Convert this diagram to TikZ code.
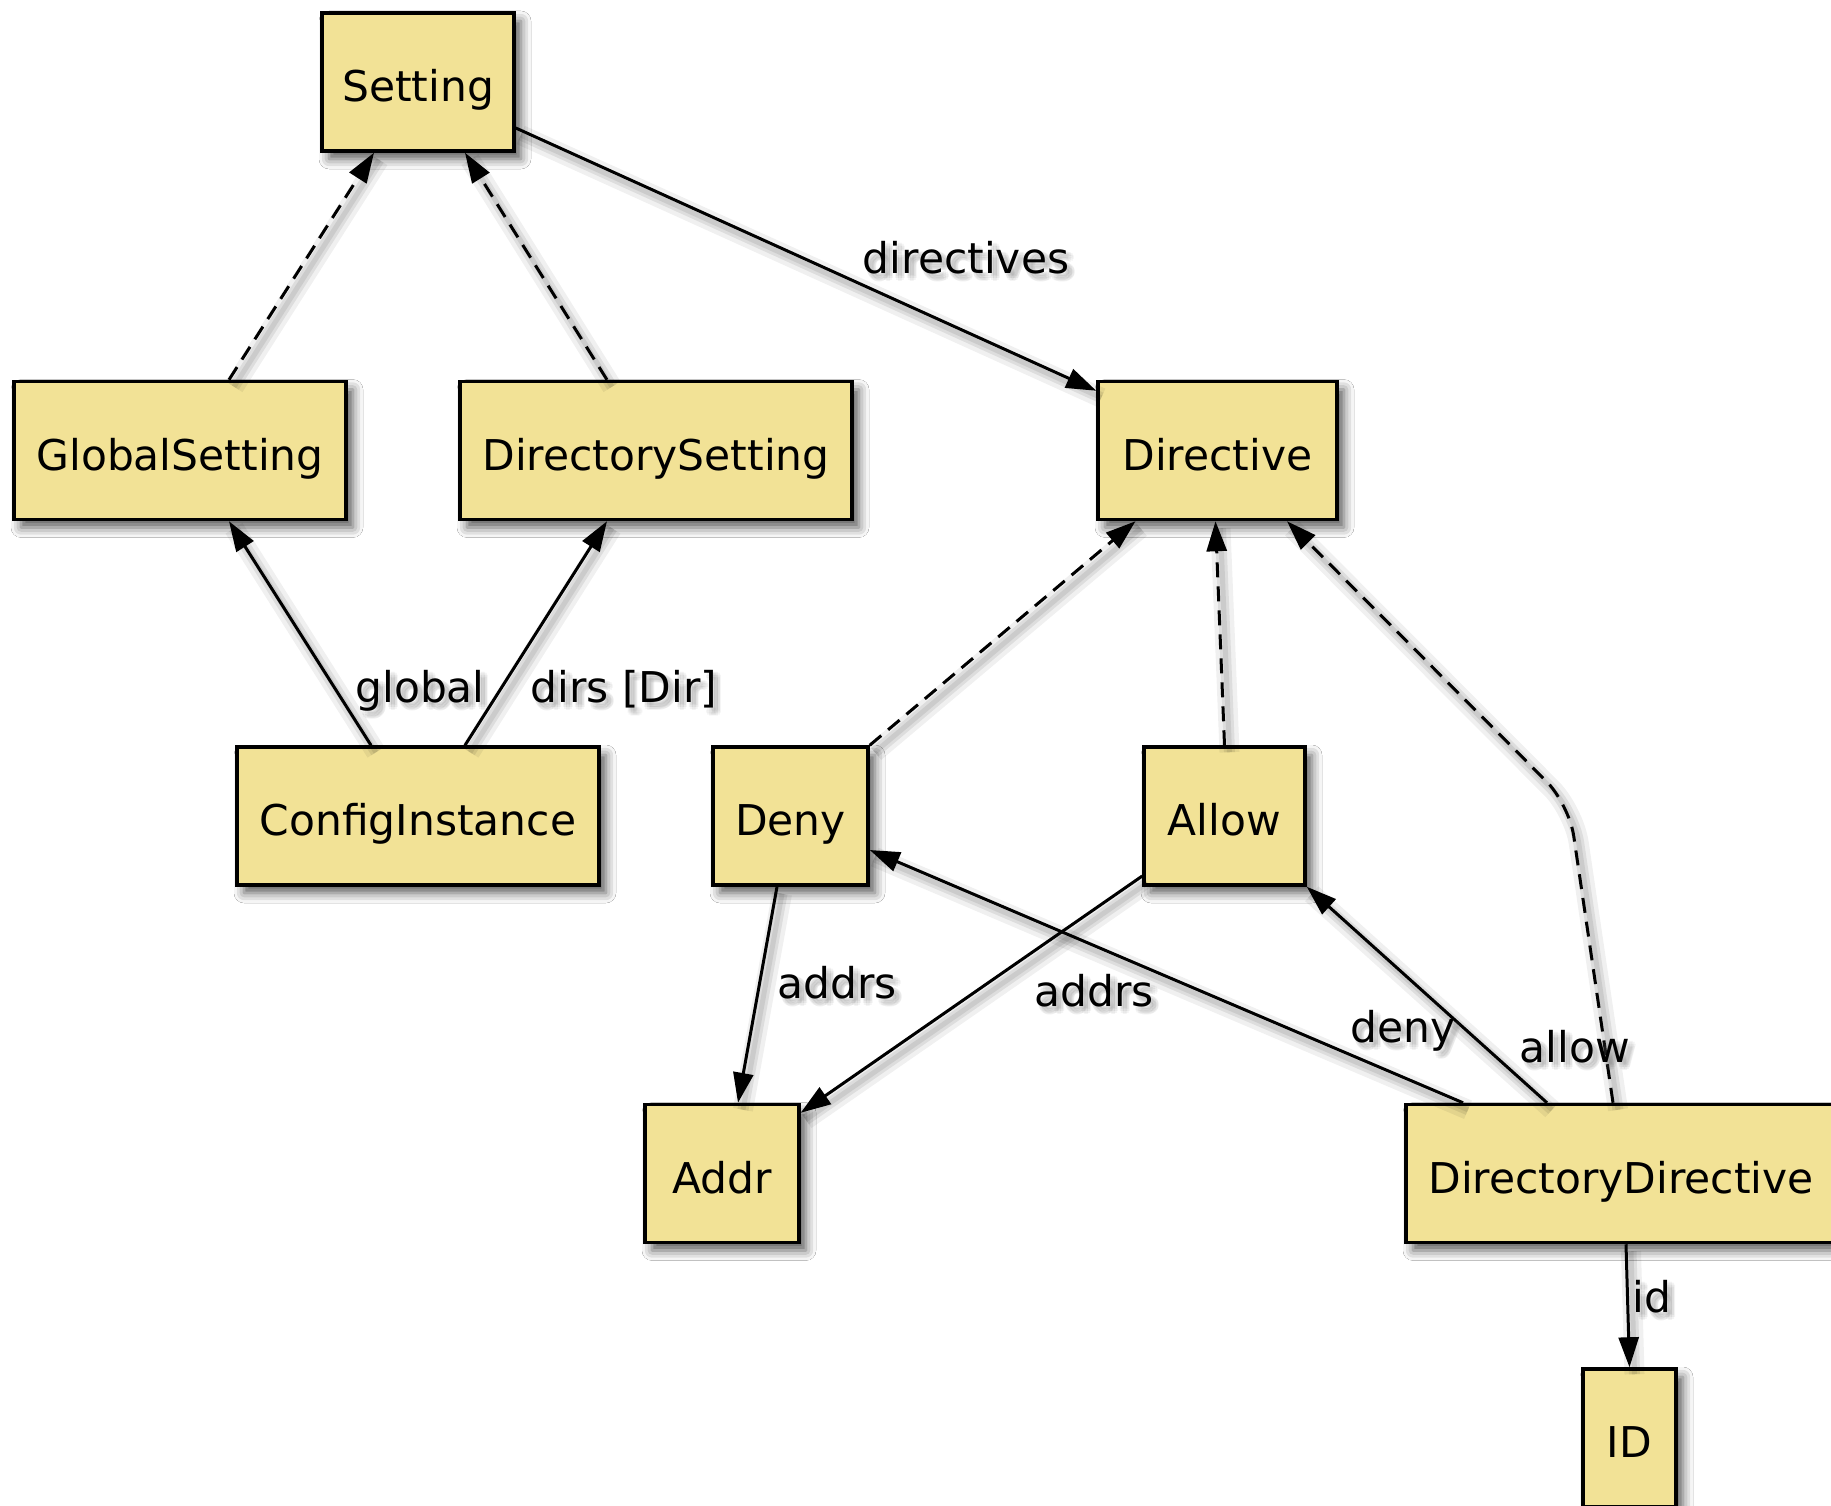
\documentclass[tikz,border=0pt]{standalone}
\usepackage{fontspec}
\setmainfont{DejaVu Sans}
\usetikzlibrary{arrows.meta,calc,shadows.blur}

\definecolor{boxfill}{RGB}{242,226,150}

\tikzset{
  x=1pt, y=-1pt,
  every node/.style={font=\fontsize{42.4}{50}\selectfont},
  classbox/.style={draw=black, line width=3.5pt, fill=boxfill, inner sep=0pt,
    minimum height=138pt, text height=39pt, text depth=0pt,
    blur shadow={shadow xshift=7pt, shadow yshift=-8pt, shadow blur radius=10pt, shadow opacity=65}},
  lbl/.style={anchor=base, inner sep=0pt},
  lblshadow/.style={anchor=base, inner sep=0pt, text=black!60, opacity=0.07},
  edgeshadow/.style={
    preaction={draw=black, solid, -, opacity=0.06, line width=20pt, transform canvas={shift={(5pt,-7pt)}}},
    preaction={draw=black, solid, -, opacity=0.08, line width=11pt, transform canvas={shift={(5pt,-7pt)}}},
    preaction={draw=black, solid, -, opacity=0.08, line width=5pt, transform canvas={shift={(5pt,-7pt)}}}},
  edge/.style={draw=black, line width=3pt, edgeshadow,
    -{Triangle[length=30pt,width=20pt]}},
  inherit/.style={edge, dash pattern=on 15pt off 9pt},
}

% role name with a soft drop shadow behind the text
\newcommand\rolename[3]{%
  \foreach \dx/\dy in {2/5,8/5,5/2,5/8,3/3,7/3,3/7,7/7,5/5} {
    \node[lblshadow] at ($(#2)+(\dx,\dy)$) {#3};
  }
  \node[lbl] (#1) at (#2) {#3};
}

\begin{document}
\begin{tikzpicture}
\clip (0,0) rectangle (1831,1506);
\fill[white] (0,0) rectangle (1831,1506);

% classes
\node[classbox, minimum width=192pt] (set)  at (418,82)     {Setting};
\node[classbox, minimum width=332pt] (gs)   at (180,450.5)  {GlobalSetting};
\node[classbox, minimum width=392pt] (ds)   at (656,450.5)  {DirectorySetting};
\node[classbox, minimum width=239pt] (dir)  at (1217.5,450.5) {Directive};
\node[classbox, minimum width=362pt] (ci)   at (418,816)    {ConfigInstance};
\node[classbox, minimum width=155pt] (deny) at (790.5,816)  {Deny};
\node[classbox, minimum width=161pt] (allow) at (1224.5,816) {Allow};
\node[classbox, minimum width=154pt] (addr) at (722,1173.5) {Addr};
\node[classbox, minimum width=430pt] (dd)   at (1621,1173.5) {DirectoryDirective};
\node[classbox, minimum width=93pt]  (id)   at (1629.5,1438) {ID};

% inheritance
\draw[inherit] ($(gs.north)+(49,0)$) -- ($(set.south)+(-44,0)$);
\draw[inherit] ($(ds.north)+(-49,0)$) -- ($(set.south)+(47,0)$);
\draw[inherit] (deny.north east) -- ($(dir.south)+(-82,0)$);
\draw[inherit] (allow.north) -- ($(dir.south)+(-2,0)$);
\draw[inherit, rounded corners=32pt] ($(dd.north)+(-8,0)$) -- (1569,804) -- ($(dir.south)+(69.5,0)$);

% associations
\draw[edge] ($(set.east)+(0,46)$) -- ($(dir.north west)+(0,11)$);
\draw[edge] ($(ci.north)+(-47,0)$) -- ($(gs.south)+(49,0)$);
\draw[edge] ($(ci.north)+(47,0)$) -- ($(ds.south)+(-49,0)$);
\draw[edge] ($(deny.south)+(-13.5,0)$) -- ($(addr.north)+(16,0)$);
\draw[edge] ($(allow.west)+(0,60)$) -- ($(addr.north east)+(0,10)$);
\draw[edge] ($(dd.north)+(-158,0)$) -- ($(deny.east)+(0,34)$);
\draw[edge] ($(dd.north)+(-74,0)$) -- (allow.south east);
\draw[edge] ($(dd.south)+(5,0)$) -- (id.north);

% role names
\rolename{ldirectives}{966,274}{directives}
\rolename{lglobal}{420,702}{global}
\rolename{ldirs}{624,702}{dirs [Dir]}
\rolename{laddrs1}{837,998}{addrs}
\rolename{laddrs2}{1094,1006}{addrs}
\rolename{ldeny}{1403,1042}{deny}
\rolename{lallow}{1575,1062}{allow}
\rolename{lid}{1652,1312}{id}
\end{tikzpicture}
\end{document}
